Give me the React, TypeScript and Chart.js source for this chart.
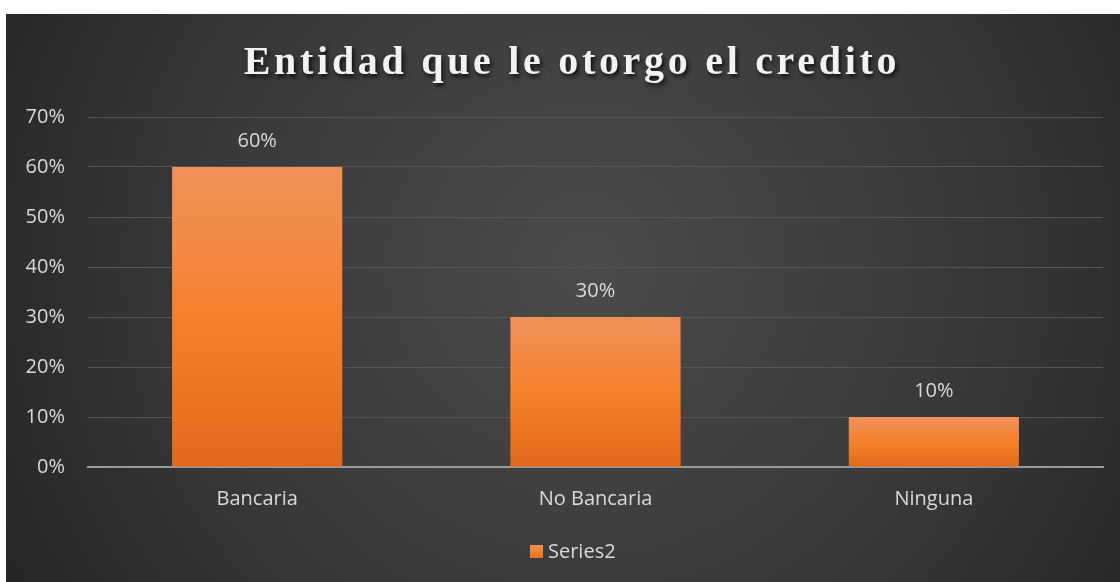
import React, { useEffect, useRef } from "react";
import { Chart, registerables } from "chart.js";

Chart.register(...registerables);

const categories = ["Bancaria", "No Bancaria", "Ninguna"];
const seriesName = "Series2";
const values = [0.6, 0.3, 0.1];
const titleText = "Entidad que le otorgo el credito";
const yMax = 0.7;
const yStep = 0.1;

const W = 1114;
const H = 568;
const LABEL_FONT = '"Open Sans", sans-serif';
const LABEL_COLOR = "#d9d9d9";

const pct = (v: number) => `${Math.round(v * 100)}%`;

const decorPlugin = {
  id: "decor",
  beforeDraw(chart: any) {
    const ctx = chart.ctx;
    ctx.save();
    const g = ctx.createRadialGradient(580, 250, 0, 580, 250, 720);
    g.addColorStop(0, "#4b4b4b");
    g.addColorStop(0.55, "#383838");
    g.addColorStop(1, "#222222");
    ctx.fillStyle = g;
    ctx.fillRect(0, 0, chart.width, chart.height);
    ctx.restore();
  },
  afterDraw(chart: any) {
    const ctx = chart.ctx;
    // title
    ctx.save();
    ctx.font = 'bold 40px "Liberation Serif", "Times New Roman", serif';
    (ctx as any).letterSpacing = "3.7px";
    ctx.textAlign = "center";
    ctx.textBaseline = "alphabetic";
    ctx.shadowColor = "rgba(0,0,0,0.75)";
    ctx.shadowOffsetX = 2;
    ctx.shadowOffsetY = 3;
    ctx.shadowBlur = 4;
    ctx.fillStyle = "#f2f2f2";
    ctx.fillText(titleText, 566, 60);
    ctx.restore();

    // data labels
    const meta = chart.getDatasetMeta(0);
    ctx.save();
    ctx.font = `20px ${LABEL_FONT}`;
    ctx.fillStyle = LABEL_COLOR;
    ctx.textAlign = "center";
    ctx.textBaseline = "middle";
    meta.data.forEach((bar: any, i: number) => {
      ctx.fillText(pct(values[i]), bar.x, bar.y - 26);
    });
    ctx.restore();

    // legend
    ctx.save();
    const lx = 524;
    const ly = 531;
    const lg = ctx.createLinearGradient(0, ly, 0, ly + 13);
    lg.addColorStop(0, "#f5904f");
    lg.addColorStop(1, "#e8721e");
    ctx.fillStyle = lg;
    ctx.fillRect(lx, ly, 13, 13);
    ctx.font = `20px ${LABEL_FONT}`;
    ctx.fillStyle = LABEL_COLOR;
    ctx.textAlign = "left";
    ctx.textBaseline = "middle";
    ctx.fillText(seriesName, lx + 18, ly + 7);
    ctx.restore();
  },
};

export default function App() {
  const ref = useRef<HTMLCanvasElement | null>(null);

  useEffect(() => {
    if (!ref.current) return;
    const chart = new Chart(ref.current, {
      type: "bar",
      data: {
        labels: categories,
        datasets: [
          {
            label: seriesName,
            data: values,
            backgroundColor: (c: any) => {
              const ch = c.chart;
              if (!ch.chartArea || c.raw === undefined) return "#f58125";
              const ys = ch.scales.y;
              const top = ys.getPixelForValue(c.raw);
              const bottom = ys.getPixelForValue(0);
              const g = ch.ctx.createLinearGradient(0, top, 0, bottom);
              g.addColorStop(0, "#f0915a");
              g.addColorStop(0.5, "#f5812c");
              g.addColorStop(1, "#e2691a");
              return g;
            },
            borderWidth: 0,
            categoryPercentage: 1,
            barPercentage: 0.503,
          },
        ],
      },
      options: {
        responsive: false,
        animation: false,
        layout: { padding: { left: 0, right: 17, top: 103, bottom: 0 } },
        plugins: {
          legend: { display: false },
          title: { display: false },
          tooltip: { enabled: false },
        },
        scales: {
          x: {
            grid: { display: false, drawTicks: false },
            border: { display: true, color: "#9a9a9a", width: 2 },
            ticks: {
              color: LABEL_COLOR,
              font: { family: LABEL_FONT, size: 20 },
              padding: 20,
            },
            afterFit: (s: any) => {
              s.height = 115;
            },
          },
          y: {
            min: 0,
            max: yMax,
            grid: { color: "#555555", lineWidth: 1, drawTicks: false },
            border: { display: false },
            ticks: {
              stepSize: yStep,
              color: LABEL_COLOR,
              font: { family: LABEL_FONT, size: 20 },
              padding: 23,
              callback: (v: any) => pct(Number(v)),
            },
            afterFit: (s: any) => {
              s.width = 82;
            },
          },
        },
      },
      plugins: [decorPlugin],
    });
    return () => chart.destroy();
  }, []);

  return (
    <div style={{ position: "absolute", left: 6, top: 14, width: W, height: H }}>
      <canvas ref={ref} width={W} height={H} style={{ display: "block", width: W, height: H }} />
    </div>
  );
}
